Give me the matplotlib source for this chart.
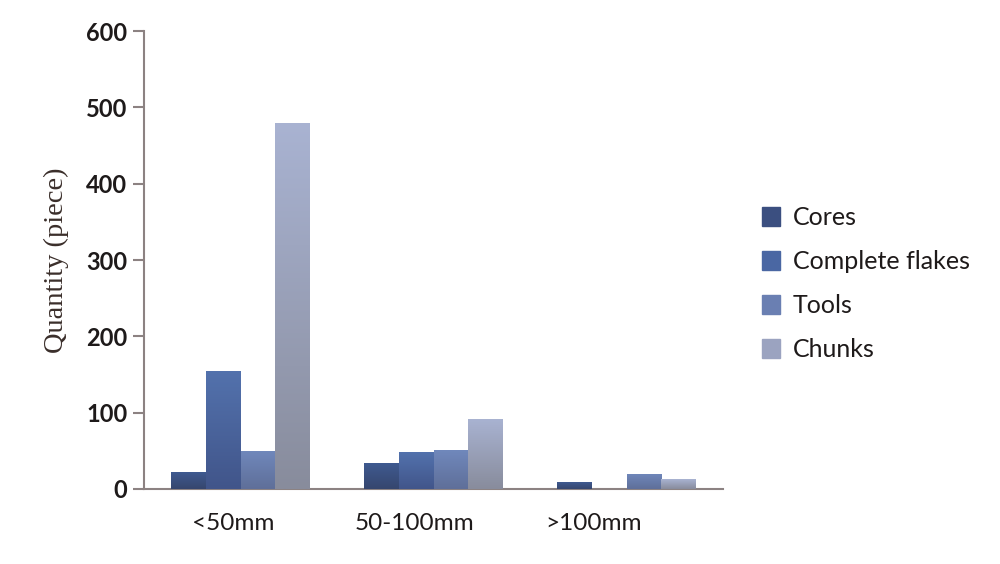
import matplotlib
matplotlib.use("Agg")
import numpy as np
import matplotlib.pyplot as plt
import matplotlib.transforms as mtransforms
from matplotlib.colors import LinearSegmentedColormap

categories = ["<50mm", "50-100mm", ">100mm"]
series = ["Cores", "Complete flakes", "Tools", "Chunks"]
cores = [22, 34, 9]
flakes = [155, 48, 0]
tools = [50, 51, 20]
chunks = [480, 92, 13]

# top colour, bottom colour of each series (bars have a vertical gradient)
top_cols = ["#3f5a90", "#5372ad", "#7088bc", "#a9b3d2"]
bot_cols = ["#36466e", "#41558a", "#5f6f99", "#888c9c"]
legend_cols = ["#3b4f80", "#4a67a3", "#6a7fb2", "#9ba3c0"]

axis_col = "#8c8282"

fig = plt.figure(figsize=(10, 5.64), dpi=100)
ax = fig.add_axes([0.144, 0.133, 0.579, 0.812])

x = np.arange(len(categories))
w = 0.18
values = [cores, flakes, tools, chunks]
grad = np.linspace(1, 0, 256).reshape(-1, 1)
for i, vals in enumerate(values):
    pos = x + (i - 1.5) * w
    bars = ax.bar(pos, vals, w, color=legend_cols[i], label=series[i], zorder=2)
    cmap = LinearSegmentedColormap.from_list("g%d" % i, [bot_cols[i], top_cols[i]])
    for b in bars:
        h = b.get_height()
        if h <= 0:
            continue
        x0 = b.get_x()
        im = ax.imshow(grad, extent=[x0, x0 + w, 0, h], aspect="auto",
                       cmap=cmap, origin="upper", zorder=3)
        im.set_clip_path(b)

ax.set_xlim(-0.5, 2.5)
ax.set_ylim(0, 600)
ax.set_yticks(range(0, 601, 100))
ax.set_xticks(x)
ax.set_xticklabels(categories)

for s in ["top", "right"]:
    ax.spines[s].set_visible(False)
for s in ["left", "bottom"]:
    ax.spines[s].set_color(axis_col)
    ax.spines[s].set_linewidth(1.5)
ax.tick_params(axis="y", color=axis_col, length=8, width=1.5, pad=4)
ax.tick_params(axis="x", length=0, pad=17)
for lab in ax.get_yticklabels():
    lab.set_fontfamily("Lato")
    lab.set_fontweight("bold")
    lab.set_fontsize(17)
    lab.set_color("#1e1a1a")
# the category labels sit a little left of their groups in the original
shifts = [-7, -19, -33]
for lab, dx in zip(ax.get_xticklabels(), shifts):
    lab.set_fontfamily("Lato")
    lab.set_fontsize(17.5)
    lab.set_color("#1e1a1a")
    lab.set_transform(lab.get_transform() +
                      mtransforms.ScaledTranslation(dx / 100, 0, fig.dpi_scale_trans))

ax.set_ylabel("Quantity (piece)", fontfamily="Liberation Serif", fontsize=20.5,
              color="#3a2e2a", labelpad=12)

handles = [plt.Rectangle((0, 0), 1, 1, color=c) for c in legend_cols]
leg = fig.legend(handles, series, loc="center left", bbox_to_anchor=(0.739, 0.497),
                 frameon=False, handlelength=0.75, handleheight=0.75,
                 handletextpad=0.5, labelspacing=0.84,
                 prop={"family": "Lato", "size": 18})
for t in leg.get_texts():
    t.set_color("#1e1a1a")

plt.savefig("out.png", dpi=100)
